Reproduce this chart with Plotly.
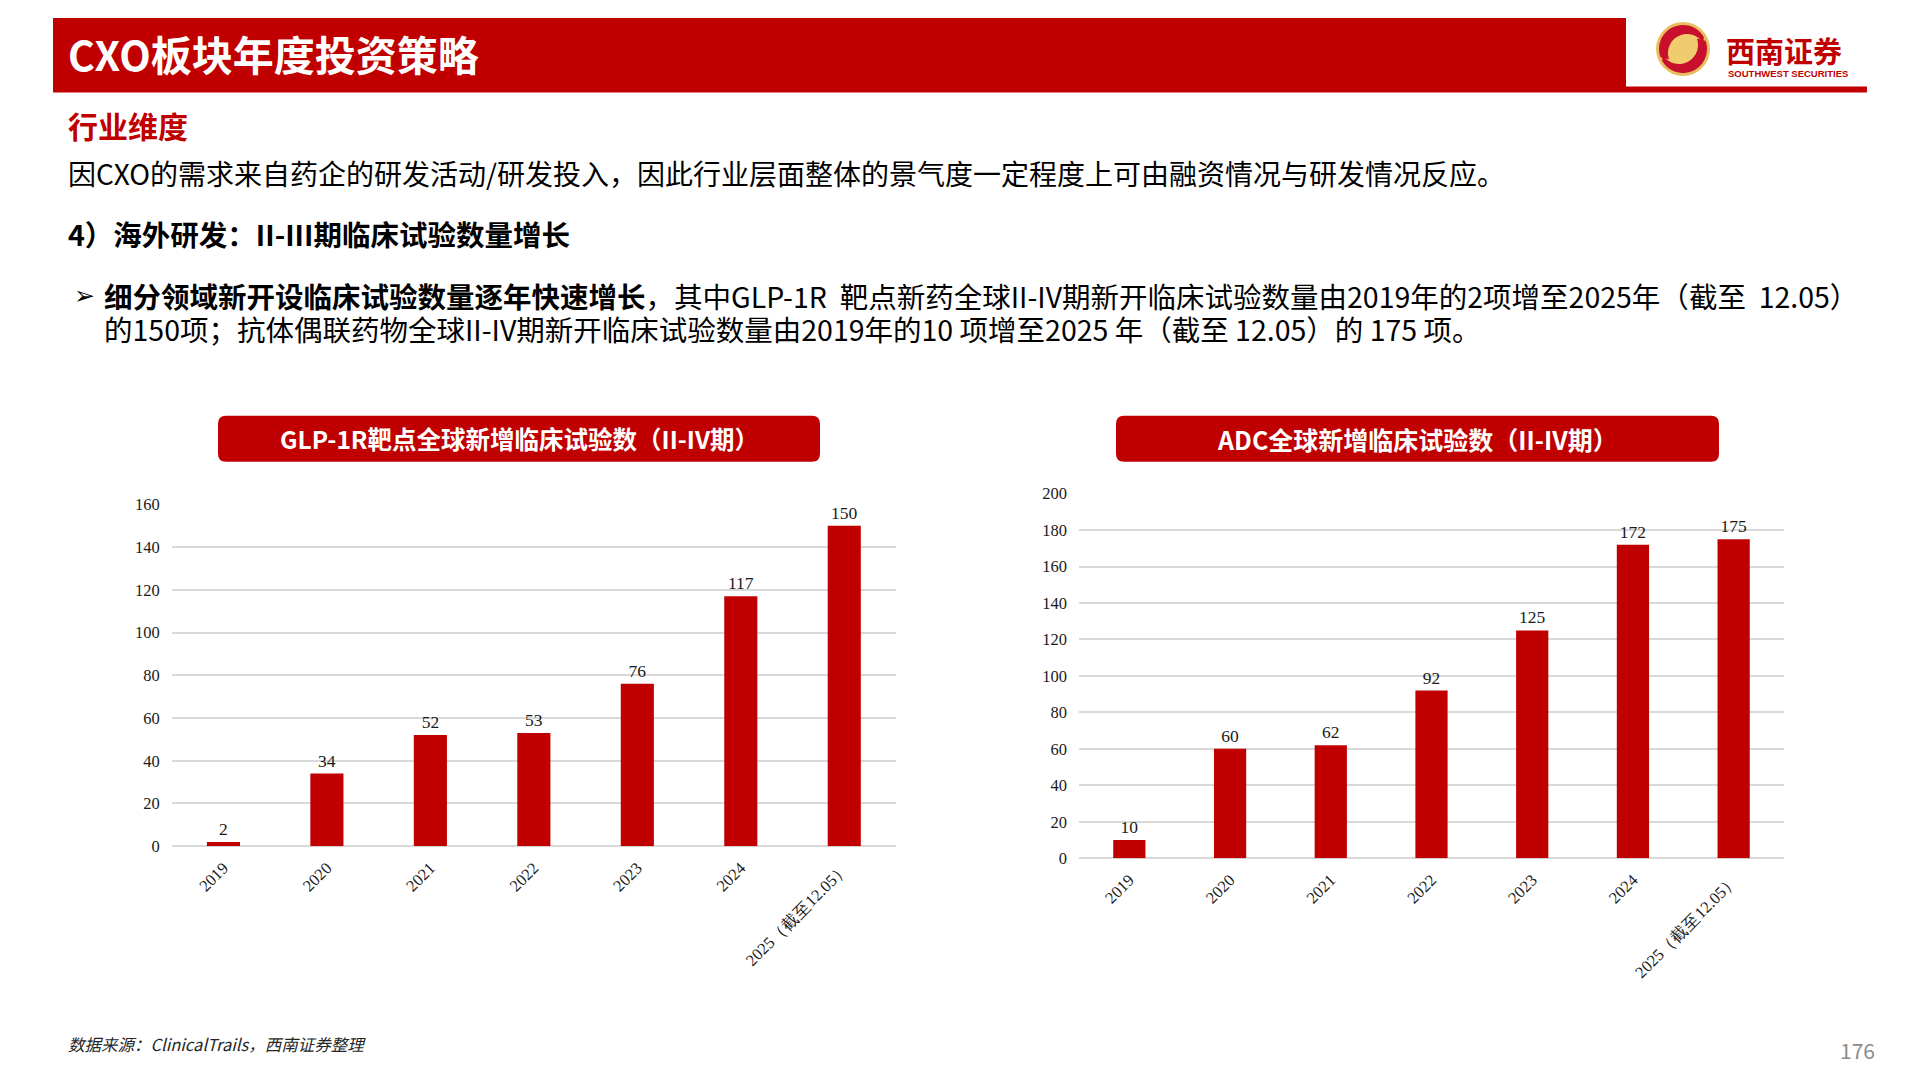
import numpy as np
import plotly.graph_objects as go

# ---------------- data ----------------
categories = ["2019", "2020", "2021", "2022", "2023", "2024", "2025（截至12.05）"]
glp1_trials = [2, 34, 52, 53, 76, 117, 150]
adc_trials = [10, 60, 62, 92, 125, 172, 175]
glp1_ticks = [0, 20, 40, 60, 80, 100, 120, 140, 160]
adc_ticks = [0, 20, 40, 60, 80, 100, 120, 140, 160, 180, 200]

RED = "#C00000"
W, H = 1920, 1080
CJK = "Noto Sans CJK SC"
SERIF = "Liberation Serif"


def px(x):
    return x / W


def py(y):
    # compensate the slight vertical squeeze seen in the captured page
    return 1 - ((y - 9) / 0.983) / H


fig = go.Figure()
for xa, ya, vals in (("x", "y", glp1_trials), ("x2", "y2", adc_trials)):
    fig.add_trace(go.Bar(x=categories, y=vals, text=vals, xaxis=xa, yaxis=ya,
                         marker=dict(color=RED, line=dict(width=0)), textposition="outside",
                         cliponaxis=False, textfont=dict(family=SERIF, size=17.5, color="#1a1a1a"),
                         showlegend=False, hoverinfo="x+y"))

axis_common = dict(showline=False, ticks="", tickfont=dict(family=SERIF, size=16.5, color="#1a1a1a"))
grid = dict(showgrid=True, gridcolor="#D9D9D9", gridwidth=1.5, zeroline=True,
            zerolinecolor="#D9D9D9", zerolinewidth=1.5, ticklabelstandoff=11)
fig.update_layout(
    width=W, height=H, autosize=False,
    margin=dict(l=0, r=0, t=0, b=0, pad=0),
    paper_bgcolor="white", plot_bgcolor="white",
    bargap=0.68,
    xaxis=dict(domain=[px(171.7), px(896)], anchor="y", tickangle=-45, showgrid=False,
               categoryorder="array", categoryarray=categories, ticklabelstandoff=8, **axis_common),
    yaxis=dict(domain=[py(846.7), py(504.7)], anchor="x", range=[0, 160], tickvals=glp1_ticks,
               **grid, **axis_common),
    xaxis2=dict(domain=[px(1079), px(1784)], anchor="y2", tickangle=-45, showgrid=False,
                categoryorder="array", categoryarray=categories, ticklabelstandoff=8, **axis_common),
    yaxis2=dict(domain=[py(858.7), py(494)], anchor="x2", range=[0, 200], tickvals=adc_ticks,
                **grid, **axis_common),
)

shapes = []
# header band
shapes.append(dict(type="rect", xref="paper", yref="paper", x0=px(53), x1=px(1626), y0=py(92.5), y1=py(18),
                   fillcolor=RED, line=dict(width=0), layer="below"))
shapes.append(dict(type="rect", xref="paper", yref="paper", x0=px(1626), x1=px(1867), y0=py(92.5), y1=py(86.5),
                   fillcolor=RED, line=dict(width=0), layer="below"))


def rounded_rect(x0, y0, x1, y1, r):
    p = (f"M {px(x0 + r)},{py(y0)} L {px(x1 - r)},{py(y0)} Q {px(x1)},{py(y0)} {px(x1)},{py(y0 + r)} "
         f"L {px(x1)},{py(y1 - r)} Q {px(x1)},{py(y1)} {px(x1 - r)},{py(y1)} "
         f"L {px(x0 + r)},{py(y1)} Q {px(x0)},{py(y1)} {px(x0)},{py(y1 - r)} "
         f"L {px(x0)},{py(y0 + r)} Q {px(x0)},{py(y0)} {px(x0 + r)},{py(y0)} Z")
    return dict(type="path", xref="paper", yref="paper", path=p, fillcolor=RED, line=dict(width=0))


shapes.append(rounded_rect(218, 416, 820, 462, 8))
shapes.append(rounded_rect(1116, 416, 1719, 462, 8))

# logo: gold circle with red S bands
cx, cy, R = 1683, 49, 27
shapes.append(dict(type="circle", xref="paper", yref="paper", x0=px(cx - R), x1=px(cx + R),
                   y0=py(cy + R), y1=py(cy - R), fillcolor="#E9BE5F", line=dict(width=0)))
shapes.append(dict(type="circle", xref="paper", yref="paper", x0=px(cx - R + 6), x1=px(cx + R - 6),
                   y0=py(cy + R - 6), y1=py(cy - R + 6), fillcolor="#F1CC6E", line=dict(width=0)))


def band(start, end, off, r2):
    t1 = np.radians(np.linspace(start, end, 30))
    t2 = np.radians(np.linspace(end, start, 30))
    pts = [(cx + (R - 3) * np.cos(t), cy - (R - 3) * np.sin(t)) for t in t1]
    pts += [(cx + off[0] + r2 * np.cos(t), cy - off[1] - r2 * np.sin(t)) for t in t2]
    s = "M " + " L ".join(f"{px(a):.5f},{py(b):.5f}" for a, b in pts) + " Z"
    return dict(type="path", xref="paper", yref="paper", path=s, fillcolor="#C8102E", line=dict(width=0))


shapes.append(band(30, 200, (4, -4), 19))
shapes.append(band(210, 380, (-4, 4), 19))
fig.update_layout(shapes=shapes)

ann = []


def text(x, y, s, size, color="#000000", family=CJK, xanchor="left", **kw):
    ann.append(dict(x=px(x), y=py(y), xref="paper", yref="paper", text=s, showarrow=False,
                    xanchor=xanchor, yanchor="middle", font=dict(family=family, size=size, color=color), **kw))


text(66, 53, "<b>CXO板块年度投资策略</b>", 41, "white")
text(1724, 50, "<b>西南证券</b>", 29, RED)
text(1788, 73.5, "<b>SOUTHWEST SECURITIES</b>", 9.5, RED, family="Liberation Sans", xanchor="center")
text(66, 125, "<b>行业维度</b>", 30, RED)
text(66, 173, "因CXO的需求来自药企的研发活动/研发投入，因此行业层面整体的景气度一定程度上可由融资情况与研发情况反应。", 28)
text(66, 234, "<b>4）海外研发：II-III期临床试验数量增长</b>", 28.5)
text(72, 296, "➢", 25, family="DejaVu Sans")
text(102, 296, "<b>细分领域新开设临床试验数量逐年快速增长</b>，其中GLP-1R  靶点新药全球II-IV期新开临床试验数量由2019年的2项增至2025年（截至  12.05）", 28.5)
text(102, 329, "的150项；抗体偶联药物全球II-IV期新开临床试验数量由2019年的10 项增至2025 年（截至 12.05）的 175 项。", 28.5)
text(519, 439, "<b>GLP-1R靶点全球新增临床试验数（II-IV期）</b>", 24.5, "white", xanchor="center")
text(1417.5, 439, "<b>ADC全球新增临床试验数（II-IV期）</b>", 25, "white", xanchor="center")
text(66, 1045, "<i>数据来源：ClinicalTrails，西南证券整理</i>", 16.5, "#262626")
text(1877, 1051, "176", 21, "#8C8C8C", xanchor="right")
fig.update_layout(annotations=ann)

js = ("document.documentElement.style.margin='0px';document.documentElement.style.overflow='hidden';"
      "document.body.style.margin='0px';document.body.style.overflow='hidden';"
      "var d=document.getElementsByClassName('plotly-graph-div')[0];"
      "d.style.position='fixed';d.style.top='0px';d.style.left='0px';")
fig.write_html("out.html", config={"displayModeBar": False}, post_script=js)
